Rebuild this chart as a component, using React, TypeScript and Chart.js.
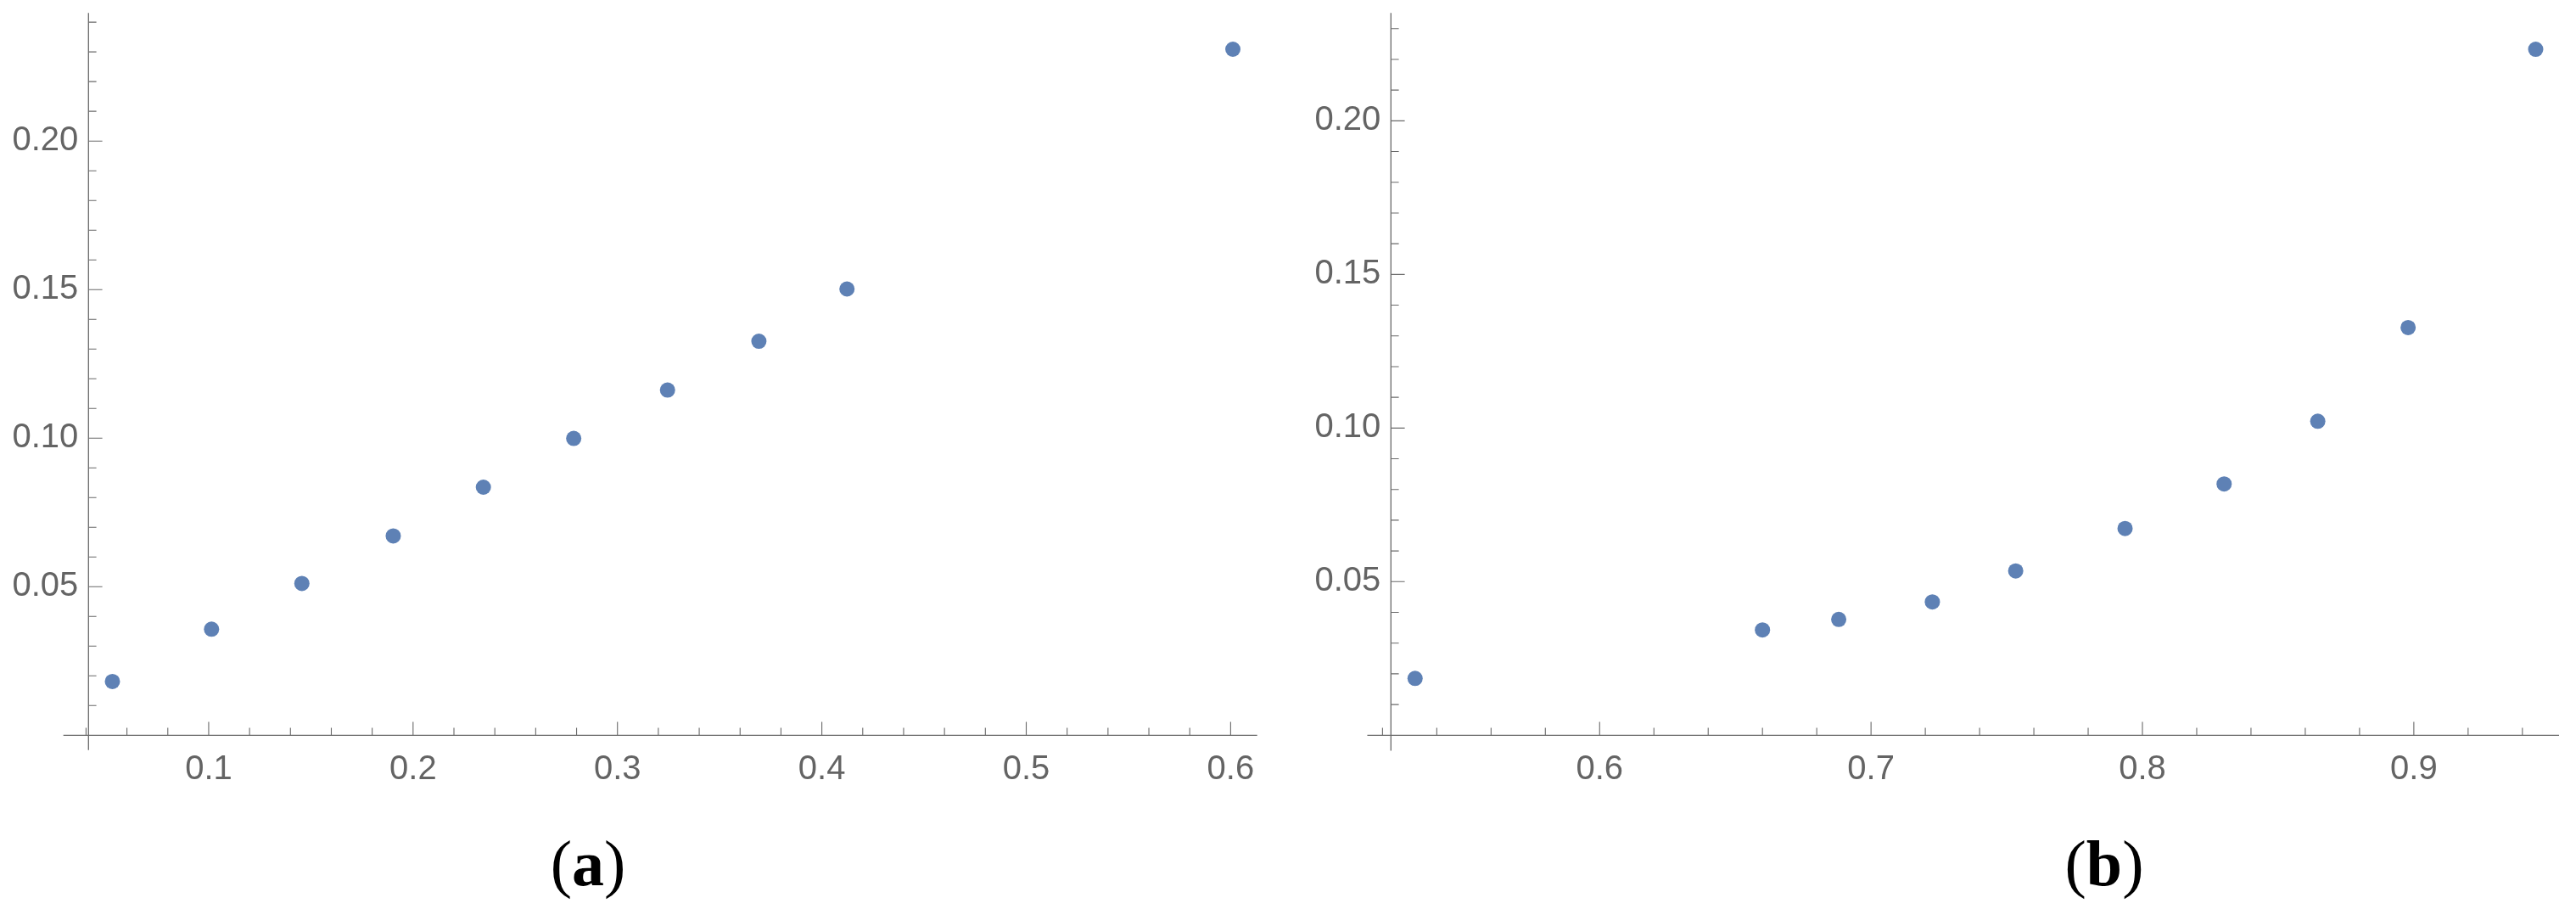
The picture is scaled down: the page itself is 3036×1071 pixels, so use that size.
import { useEffect, useRef } from 'react';
import { Chart, registerables } from 'chart.js';

Chart.register(...registerables);

// panel (a)
const leftX = [0.0529, 0.1014, 0.1456, 0.1903, 0.2344, 0.2786, 0.3245, 0.3692, 0.4123, 0.6011];
const leftY = [0.0181, 0.0357, 0.0511, 0.0671, 0.0835, 0.0999, 0.1162, 0.1326, 0.1502, 0.2309];
const leftXTicks = [0.1, 0.2, 0.3, 0.4, 0.5, 0.6];
const leftYTicks = [0.05, 0.1, 0.15, 0.2];

// panel (b)
const rightX = [0.532, 0.66, 0.6881, 0.7226, 0.7533, 0.7936, 0.8301, 0.8646, 0.8979, 0.9449];
const rightY = [0.0185, 0.0343, 0.0377, 0.0434, 0.0535, 0.0673, 0.0818, 0.1022, 0.1327, 0.2233];
const rightXTicks = [0.6, 0.7, 0.8, 0.9];
const rightYTicks = [0.05, 0.1, 0.15, 0.2];

const POINT_COLOR = '#5e81b5';
const AXIS_COLOR = '#6a6a6a';
const LABEL_COLOR = '#646464';

const CANVAS_W = 1518;
const CANVAS_H = 1111;
const TOP_SHIFT = 40; // canvas starts above the page so the label padding has room

interface PanelProps {
  xs: number[];
  ys: number[];
  xTicks: number[];
  yTicks: number[];
  xMin: number;
  xMax: number;
  yMax: number;
  xLineStart: number;
  xMinorFrom: number;
  chartLeft: number;
  chartRight: number;
  offsetLeft: number;
}

// Mathematica-style axes: lines crossing at the origin, ticks pointing inward
const axesPlugin = {
  id: 'mmaAxes',
  beforeDatasetsDraw(chart: any, _args: any, opts: any) {
    const { ctx } = chart;
    const x = chart.scales.x;
    const y = chart.scales.y;
    const axisY = y.getPixelForValue(0);
    const axisX = x.left;
    ctx.save();
    ctx.strokeStyle = AXIS_COLOR;
    ctx.lineWidth = 1.3;
    ctx.beginPath();
    ctx.moveTo(x.getPixelForValue(opts.xLineStart), axisY);
    ctx.lineTo(x.right, axisY);
    ctx.moveTo(axisX, y.getPixelForValue(-0.005));
    ctx.lineTo(axisX, y.top);
    ctx.stroke();

    ctx.lineWidth = 1.1;
    ctx.beginPath();
    const isMajor = (v: number, list: number[]) => list.some(t => Math.abs(t - v) < 1e-6);
    for (let v = opts.xMinorFrom; v <= x.max + 1e-9; v += 0.02) {
      const px = x.getPixelForValue(v);
      const len = isMajor(v, opts.xTicks) ? 15.7 : 8.7;
      ctx.moveTo(px, axisY);
      ctx.lineTo(px, axisY - len);
    }
    for (let v = 0.01; v <= y.max + 1e-9; v += 0.01) {
      const py = y.getPixelForValue(v);
      const len = isMajor(v, opts.yTicks) ? 16.3 : 9.3;
      ctx.moveTo(axisX, py);
      ctx.lineTo(axisX + len, py);
    }
    ctx.stroke();
    ctx.restore();
  },
};

function Panel(props: PanelProps) {
  const canvasRef = useRef<HTMLCanvasElement>(null);
  const chartRef = useRef<Chart | null>(null);

  useEffect(() => {
    if (!canvasRef.current) return;
    if (chartRef.current) chartRef.current.destroy();

    const chartTop = 15.3 + TOP_SHIFT;
    const chartBottom = 866.3 + TOP_SHIFT;
    const tickFont = { family: 'Liberation Sans, Arial, sans-serif', size: 40 };

    chartRef.current = new Chart(canvasRef.current, {
      type: 'scatter',
      data: {
        datasets: [
          {
            data: props.xs.map((v, i) => ({ x: v, y: props.ys[i] })),
            backgroundColor: POINT_COLOR,
            borderWidth: 0,
            pointRadius: 9,
          },
        ],
      },
      options: {
        animation: false,
        responsive: false,
        maintainAspectRatio: false,
        layout: {
          padding: { top: chartTop, right: CANVAS_W - props.chartRight, left: 0, bottom: 0 },
        },
        plugins: {
          legend: { display: false },
          tooltip: { enabled: false },
          mmaAxes: {
            xLineStart: props.xLineStart,
            xMinorFrom: props.xMinorFrom,
            xTicks: props.xTicks,
            yTicks: props.yTicks,
          },
        } as any,
        scales: {
          x: {
            type: 'linear',
            min: props.xMin,
            max: props.xMax,
            grid: { display: false, drawTicks: false },
            border: { display: false },
            ticks: {
              autoSkip: false,
              maxRotation: 0,
              padding: 17,
              color: LABEL_COLOR,
              font: tickFont,
              callback: (v: any) => Number(v).toFixed(1),
            },
            afterBuildTicks: (scale: any) => {
              scale.ticks = props.xTicks.map(v => ({ value: v }));
            },
            afterFit: (scale: any) => {
              scale.height = CANVAS_H - chartBottom;
            },
          },
          y: {
            type: 'linear',
            min: 0,
            max: props.yMax,
            grid: { display: false, drawTicks: false },
            border: { display: false },
            ticks: {
              autoSkip: false,
              padding: 12,
              color: LABEL_COLOR,
              font: tickFont,
              callback: (v: any) => Number(v).toFixed(2),
            },
            afterBuildTicks: (scale: any) => {
              scale.ticks = props.yTicks.map(v => ({ value: v }));
            },
            afterFit: (scale: any) => {
              scale.width = props.chartLeft;
            },
          },
        },
      },
      plugins: [axesPlugin],
    });

    return () => {
      if (chartRef.current) {
        chartRef.current.destroy();
        chartRef.current = null;
      }
    };
  }, [props]);

  return (
    <canvas
      ref={canvasRef}
      width={CANVAS_W}
      height={CANVAS_H}
      style={{
        position: 'absolute',
        left: props.offsetLeft,
        top: -TOP_SHIFT,
        width: CANVAS_W,
        height: CANVAS_H,
      }}
    />
  );
}

const captionStyle = (center: number): React.CSSProperties => ({
  position: 'absolute',
  left: center - 100,
  width: 200,
  top: 979,
  textAlign: 'center',
  fontFamily: 'Liberation Serif, Times New Roman, serif',
  fontSize: 76,
  lineHeight: 1,
  color: '#000',
});

const leftPanel: PanelProps = {
  xs: leftX,
  ys: leftY,
  xTicks: leftXTicks,
  yTicks: leftYTicks,
  xMin: 0.0412,
  xMax: 0.613,
  yMax: 0.2431,
  xLineStart: 0.0289,
  xMinorFrom: 0.04,
  chartLeft: 104.3,
  chartRight: 1481.7,
  offsetLeft: 0,
};

const rightPanel: PanelProps = {
  xs: rightX,
  ys: rightY,
  xTicks: rightXTicks,
  yTicks: rightYTicks,
  xMin: 0.5231,
  xMax: 0.9535,
  yMax: 0.2351,
  xLineStart: 0.5144,
  xMinorFrom: 0.52,
  chartLeft: 1639.3 - 1518,
  chartRight: 3016 - 1518,
  offsetLeft: 1518,
};

export default function App() {
  return (
    <div
      style={{
        position: 'absolute',
        left: 0,
        top: 0,
        width: 3036,
        height: 1071,
        overflow: 'hidden',
        background: '#fff',
      }}
    >
      <Panel {...leftPanel} />
      <Panel {...rightPanel} />
      <div style={captionStyle(693)}>
        (<b>a</b>)
      </div>
      <div style={captionStyle(2480)}>
        (<b>b</b>)
      </div>
    </div>
  );
}
